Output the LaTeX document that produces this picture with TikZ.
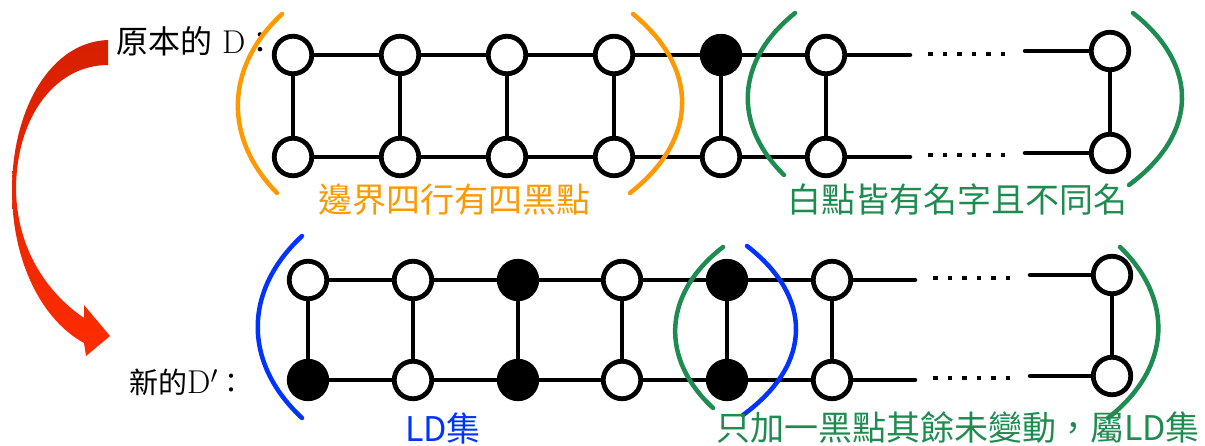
\documentclass[tikz,border=0pt]{standalone}
\usepackage{fontspec}
\newfontfamily\cjk{Noto Sans CJK TC}
\usetikzlibrary{backgrounds}
\definecolor{myorange}{RGB}{255,153,0}
\definecolor{mygreen}{RGB}{30,140,80}
\definecolor{myblue}{RGB}{0,51,255}
\definecolor{arrowtop}{RGB}{214,32,0}
\definecolor{arrowbot}{RGB}{255,44,0}
\tikzset{
  wn/.style={circle, draw=black, line width=4.8pt, fill=white, minimum size=37.5pt, inner sep=0pt},
  bn/.style={wn, fill=black},
  ln/.style={line width=4.5pt, line cap=round},
  dots/.style={line width=4.5pt, dash pattern=on 4.5pt off 10pt},
  bracket/.style={line width=4.5pt, line cap=round},
  lbl/.style={inner sep=0pt, font=\cjk\fontsize{34}{40}\selectfont},
}
\begin{document}
\begin{tikzpicture}[x=1pt,y=-1pt]
\useasboundingbox (0,0) rectangle (1205,446);

% red curved arrow
\shade[top color=arrowtop, bottom color=arrowbot]
  (108,40) .. controls (50,42) and (12,110) .. (12,190)
  .. controls (12,262) and (42,320) .. (84,343)
  -- (86,356) -- (110,336) -- (84,305) -- (84,318)
  .. controls (46,292) and (17,248) .. (16,190)
  .. controls (16,116) and (56,65) .. (108,65) -- cycle;

% labels
\node[anchor=base west, inner sep=0pt, font=\fontsize{33}{36}\selectfont] (t1) at (116,54) {{\cjk\fontsize{32}{36}\selectfont 原本的} D{\cjk\fontsize{30}{36}\selectfont ：}};
\node[anchor=base west, inner sep=0pt, font=\fontsize{33}{36}\selectfont] (t2) at (129,393) {{\cjk\fontsize{29}{32}\selectfont 新的}D$'${\cjk\fontsize{28}{32}\selectfont ：}};

% top graph
\node[wn] (a1) at (293,55) {};
\node[wn] (a2) at (400,55) {};
\node[wn] (a3) at (507,55) {};
\node[wn] (a4) at (614,55) {};
\node[bn] (a5) at (721,55) {};
\node[wn] (a6) at (826,55) {};
\node[wn] (aR) at (1110,51) {};
\node[wn] (b1) at (293,157) {};
\node[wn] (b2) at (400,157) {};
\node[wn] (b3) at (507,157) {};
\node[wn] (b4) at (614,157) {};
\node[wn] (b5) at (721,157) {};
\node[wn] (b6) at (826,157) {};
\node[wn] (bR) at (1110,153) {};
\coordinate (a6e) at (910,55);
\coordinate (ad1) at (928,54);
\coordinate (ad2) at (1006,54);
\coordinate (aRs) at (1025,51);
\coordinate (b6e) at (910,157);
\coordinate (bd1) at (928,155);
\coordinate (bd2) at (1006,155);
\coordinate (bRs) at (1025,153);

% bottom graph
\node[wn] (c1) at (308,280) {};
\node[wn] (c2) at (413,280) {};
\node[bn] (c3) at (518,280) {};
\node[wn] (c4) at (622,280) {};
\node[bn] (c5) at (727,280) {};
\node[wn] (c6) at (832,280) {};
\node[wn] (cR) at (1112,275) {};
\node[bn] (d1) at (308,380) {};
\node[wn] (d2) at (413,380) {};
\node[bn] (d3) at (518,380) {};
\node[wn] (d4) at (622,380) {};
\node[bn] (d5) at (727,380) {};
\node[wn] (d6) at (832,380) {};
\node[wn] (dR) at (1112,376) {};
\coordinate (c6e) at (915,280);
\coordinate (cd1) at (933,278);
\coordinate (cd2) at (1011,278);
\coordinate (cRs) at (1030,275);
\coordinate (d6e) at (915,380);
\coordinate (dd1) at (933,378);
\coordinate (dd2) at (1011,378);
\coordinate (dRs) at (1030,376);

\begin{scope}[on background layer]
  \draw[ln] (a1.center) -- (a2.center) -- (a3.center) -- (a4.center) -- (a5.center) -- (a6.center) -- (a6e);
  \draw[ln] (b1.center) -- (b2.center) -- (b3.center) -- (b4.center) -- (b5.center) -- (b6.center) -- (b6e);
  \draw[ln] (aRs) -- (aR.center) -- (bR.center) -- (bRs);
  \foreach \i in {1,...,6} \draw[ln] (a\i.center) -- (b\i.center);
  \draw[dots] (ad1) -- (ad2);
  \draw[dots] (bd1) -- (bd2);

  \draw[ln] (c1.center) -- (c2.center) -- (c3.center) -- (c4.center) -- (c5.center) -- (c6.center) -- (c6e);
  \draw[ln] (d1.center) -- (d2.center) -- (d3.center) -- (d4.center) -- (d5.center) -- (d6.center) -- (d6e);
  \draw[ln] (cRs) -- (cR.center) -- (dR.center) -- (dRs);
  \foreach \i in {1,...,6} \draw[ln] (c\i.center) -- (d\i.center);
  \draw[dots] (cd1) -- (cd2);
  \draw[dots] (dd1) -- (dd2);
\end{scope}

% brackets
\draw[bracket, myorange] (282,14) .. controls (224,68) and (224,139) .. (277,193);
\draw[bracket, myorange] (633,14) .. controls (699,68) and (699,139) .. (630,193);
\draw[bracket, mygreen] (795,13) .. controls (734,62) and (734,126) .. (784,175);
\draw[bracket, mygreen] (1133,13) .. controls (1199,65) and (1199,133) .. (1129,185);
\draw[bracket, myblue] (302,236) .. controls (243,291) and (243,363) .. (302,418);
\draw[bracket, myblue] (747,246) .. controls (813,297) and (813,364) .. (743,415);
\draw[bracket, mygreen] (723,247) .. controls (661,295) and (661,360) .. (713,408);
\draw[bracket, mygreen] (1120,247) .. controls (1173,298) and (1173,367) .. (1108,418);

% coloured captions
\node[lbl, text=myorange] (o1) at (454,200) {邊界四行有四黑點};
\node[lbl, text=mygreen] (g1) at (957,200) {白點皆有名字且不同名};
\node[lbl, text=myblue] (bl) at (443,428) {LD集};
\node[lbl, text=mygreen] (g2) at (958,428) {只加一黑點其餘未變動，屬LD集};
\end{tikzpicture}
\end{document}
